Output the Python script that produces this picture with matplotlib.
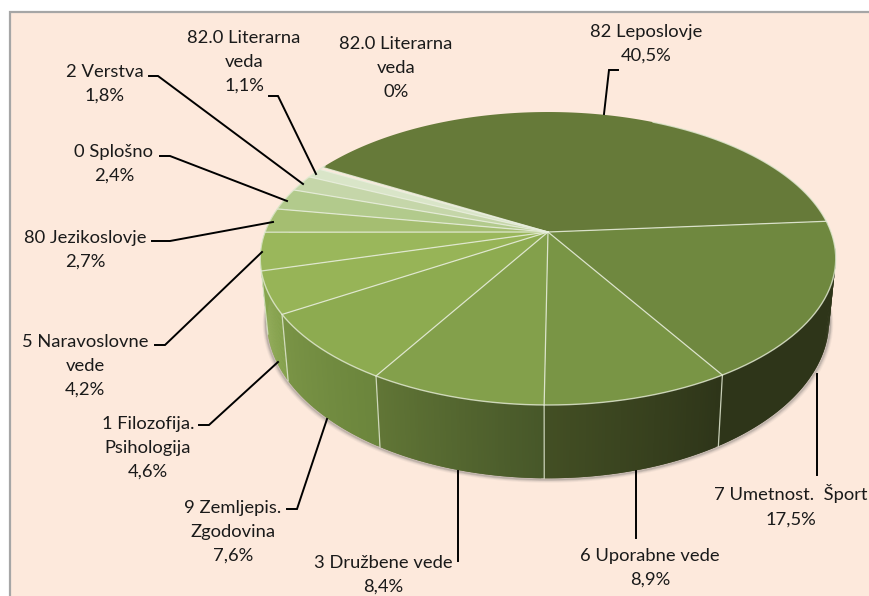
import numpy as np
import matplotlib
matplotlib.use("Agg")
import matplotlib.pyplot as plt
from matplotlib.patches import Rectangle
from matplotlib.colors import to_rgb

# ---- data ----
categories = ["82 Leposlovje", "7 Umetnost.  Šport", "6 Uporabne vede", "3 Družbene vede",
              "9 Zemljepis.\nZgodovina", "1 Filozofija.\nPsihologija", "5 Naravoslovne\nvede",
              "80 Jezikoslovje", "0 Splošno", "2 Verstva", "82.0 Literarna\nveda", "82.0 Literarna\nveda"]
values = [40.5, 17.5, 8.9, 8.4, 7.6, 4.6, 4.2, 2.7, 2.4, 1.8, 1.1, 0.0]
pct_labels = ["40,5%", "17,5%", "8,9%", "8,4%", "7,6%", "4,6%", "4,2%", "2,7%", "2,4%", "1,8%", "1,1%", "0%"]

# ---- styles ----
top_colors = ["#667a39", "#6f883f", "#799545", "#83a04b", "#8dab50", "#97b457",
              "#9ab75b", "#a5be71", "#b2ca8c", "#c5d6a9", "#d9e5c8", "#e4ecd8"]
wall_colors = {1: ("#2e3519", "#2e3519"), 2: ("#434f24", "#2e3519"), 3: ("#617636", "#475729"),
               4: ("#7a9446", "#6b853c"), 5: ("#8aa84f", "#83a04b")}
label_pos = [(646, 44), (791, 506), (650, 568), (383, 575), (233, 532), (148, 448), (85, 366),
             (85, 250), (114, 164), (105, 84), (244, 62), (396, 68)]
leaders = [[(618, 70), (609, 70), (604, 114)],
           [(817, 374), (817, 475)],
           [(636.5, 471), (636.5, 538)],
           [(458, 471), (458, 561)],
           [(287, 509), (297, 509), (327, 419)],
           [(199, 425), (209, 425), (278, 362)],
           [(155, 345), (165, 345), (262, 252)],
           [(152, 241), (170, 241), (273, 222)],
           [(160, 156), (170, 156), (287, 201)],
           [(149, 76), (158, 76), (303, 184)],
           [(269, 96), (278, 96), (316, 174)],
           None]

plt.rcParams["font.family"] = ["Lato", "DejaVu Sans"]
fig = plt.figure(figsize=(8.70, 5.96), dpi=100, facecolor="white")
ax = fig.add_axes([0, 0, 1, 1])
ax.set_xlim(0, 870)
ax.set_ylim(596, 0)
ax.axis("off")

ax.add_patch(Rectangle((10, 12), 880, 600, fc="#fde9dc", ec="#a6a6a6", lw=1.6, zorder=0))

# perspective projection of the disc
CX, CY, A, B, K, H, SX = 548.0, 232.0, 283.0, 141.7, 0.181, 60.0, 0.977
START = -60.2


def top(t):
    t = np.radians(t)
    w = 1 + K * np.cos(t)
    return CX + A * np.sin(t) / w, CY - B * np.cos(t) / w


def bottom(t):
    x, y = top(t)
    w = 1 + K * np.cos(np.radians(t))
    return CX + (x - CX) * SX, y + H / w


edges = START + np.concatenate([[0], np.cumsum(values)]) * 360 / 100
edges[-1] = START + 360

# soft shadow under the wall
ts = np.linspace(88, 282, 300)
bx, by = bottom(ts)
for d, a in [(3.5, 0.06), (2.5, 0.09), (1.5, 0.14), (0.7, 0.2)]:
    ax.plot(bx + d * 0.8 * np.sin(np.radians(ts)), by + d * 0.9, color="#555555",
            alpha=a, lw=2, zorder=1, solid_capstyle="round")


def wall(a0, a1, c_start, c_end, n=60):
    """Gradient wall between two angles; strips overlap to hide seams."""
    t = np.linspace(a0, a1, n)
    c_start, c_end = np.array(to_rgb(c_start)), np.array(to_rgb(c_end))
    for j in range(n - 1):
        f = j / (n - 2)
        col = c_start * (1 - f) + c_end * f
        seg = np.linspace(t[j], t[min(j + 2, n - 1)], 3)
        tx, ty = top(seg)
        bx_, by_ = bottom(seg)
        ax.fill(np.r_[tx, bx_[::-1]], np.r_[ty, by_[::-1]], fc=col, ec="none", zorder=2)


# silhouette ends first, then slices
wall(85, edges[1] + 1, "#2e3519", "#2e3519", 12)
wall(edges[6] - 1, 284, "#8aa84f", "#8aa84f", 16)
for i, (c1, c2) in wall_colors.items():
    a0 = 95 if i == 1 else edges[i]
    # angle grows going from right to left along the front
    wall(a0, edges[i + 1], c2, c1)
for e in edges[2:7]:
    ax.plot(*zip(top(e), bottom(e)), color="#dfe6cf", lw=0.9, alpha=0.85, zorder=3)

# top face
for i in range(len(values)):
    if values[i] <= 0:
        continue
    t = np.linspace(edges[i], edges[i + 1], max(4, int(values[i] * 8)))
    x, y = top(t)
    ax.fill(np.r_[CX, x], np.r_[CY, y], fc=top_colors[i], ec="none", zorder=4)
for e in edges[:-1]:
    x, y = top(e)
    ax.plot([CX, x], [CY, y], color="#e8eedd", lw=0.9, alpha=0.85, zorder=5)
t = np.linspace(edges[1] - 60, edges[1] + 215, 300)
x, y = top(t)
ax.plot(x, y, color="#e3ead3", lw=1.0, alpha=0.8, zorder=5)

# labels and leaders
for cat, pct, pos, ld in zip(categories, pct_labels, label_pos, leaders):
    ax.text(pos[0], pos[1], cat + "\n" + pct, ha="center", va="center", fontsize=13.2,
            color="#1a1a1a", linespacing=1.62, zorder=7)
    if ld:
        ax.plot(*zip(*ld), color="black", lw=1.4, zorder=6, solid_joinstyle="miter")

fig.savefig("out.png", dpi=100, facecolor="white")
